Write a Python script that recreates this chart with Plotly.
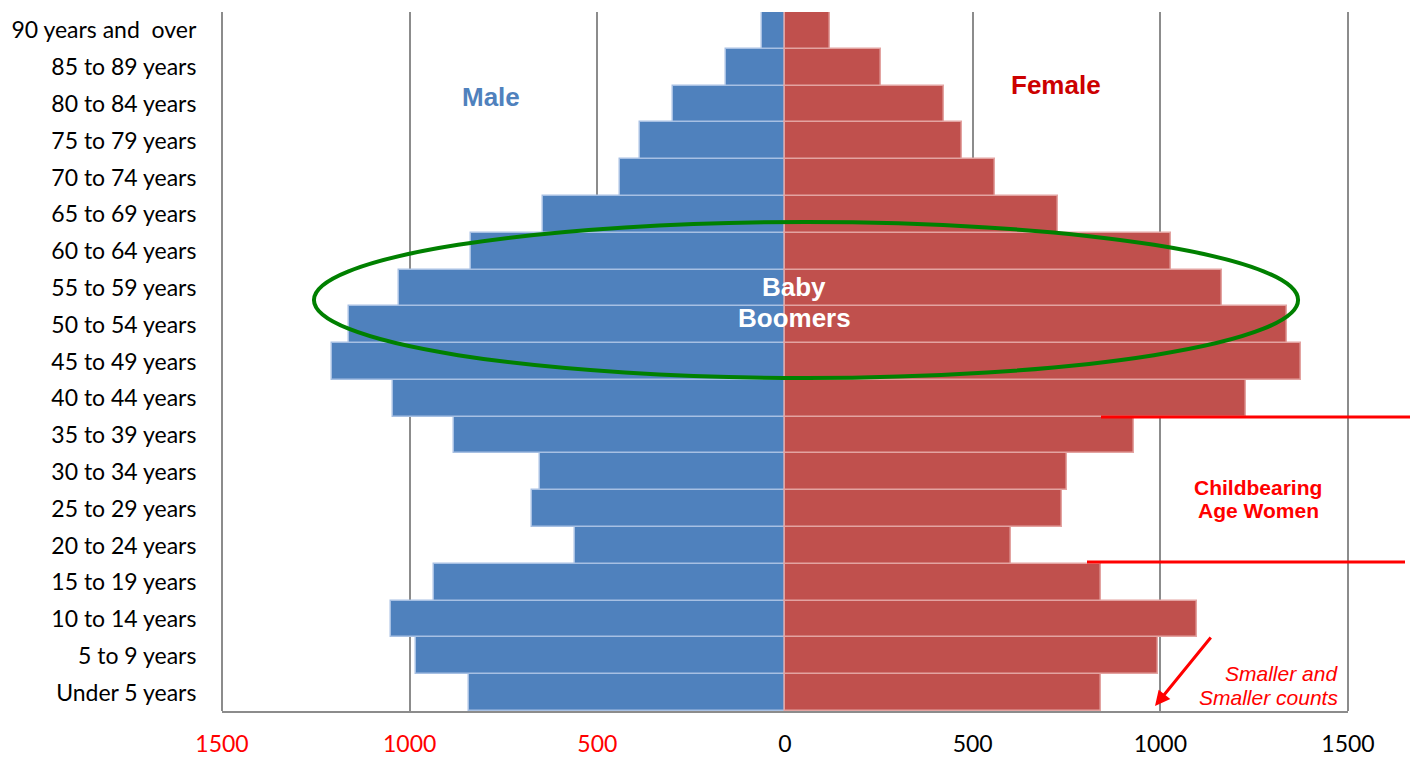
import plotly.graph_objects as go

categories = ["Under 5 years", "5 to 9 years", "10 to 14 years", "15 to 19 years",
              "20 to 24 years", "25 to 29 years", "30 to 34 years", "35 to 39 years",
              "40 to 44 years", "45 to 49 years", "50 to 54 years", "55 to 59 years",
              "60 to 64 years", "65 to 69 years", "70 to 74 years", "75 to 79 years",
              "80 to 84 years", "85 to 89 years", "90 years and  over"]
male = [842, 983, 1050, 935, 560, 674, 653, 882, 1044, 1207, 1162, 1028,
        837, 645, 440, 386, 298, 157, 60]
female = [842, 994, 1098, 842, 602, 738, 751, 930, 1228, 1375, 1338, 1164,
          1028, 727, 560, 472, 424, 256, 120]
tick_vals = [-1500, -1000, -500, 0, 500, 1000, 1500]
tick_text = ['<span style="color:#FF0000">1500</span>',
             '<span style="color:#FF0000">1000</span>',
             '<span style="color:#FF0000">500</span>',
             '0', '500', '1000', '1500']

fig = go.Figure()
fig.add_trace(go.Bar(y=categories, x=[-v for v in male], orientation="h", name="Male",
                     marker=dict(color="#4F81BD", line=dict(color="#A7C0E3", width=1.5))))
fig.add_trace(go.Bar(y=categories, x=female, orientation="h", name="Female",
                     marker=dict(color="#C0504D", line=dict(color="#E3A3A1", width=1.5))))

W, H = 1414, 758
L, R, T, B = 222, 1348, 12, 711
def px(x):
    return (x - L) / (R - L)
def py(y):
    return (B - y) / (B - T)

fig.update_layout(
    width=W, height=H,
    margin=dict(l=L, r=W - R, t=T, b=H - B, autoexpand=False),
    barmode="relative", bargap=0.0,
    showlegend=False,
    plot_bgcolor="white", paper_bgcolor="white",
    font=dict(family="Lato", size=23, color="black"),
    xaxis=dict(range=[-1500, 1500], tickvals=tick_vals, ticktext=tick_text,
               showgrid=True, gridcolor="#8C8C8C", gridwidth=1.5,
               zeroline=True, zerolinecolor="#8C8C8C", zerolinewidth=1.5,
               showline=True, linecolor="#8C8C8C", linewidth=1.5,
               ticks="outside", ticklen=12, tickcolor="rgba(0,0,0,0)",
               tickfont=dict(family="Lato", size=23), fixedrange=True, automargin=False),
    yaxis=dict(categoryorder="array", categoryarray=categories,
               showline=False, showgrid=False, ticks="outside", ticklen=20,
               tickcolor="rgba(0,0,0,0)", tickfont=dict(family="Lato", size=23),
               automargin=False, fixedrange=True),
)

shapes = [
    dict(type="line", xref="paper", yref="paper", x0=0, x1=0, y0=0, y1=1,
         line=dict(color="#8C8C8C", width=2), layer="below"),
    dict(type="line", xref="paper", yref="paper", x0=1, x1=1, y0=0, y1=1,
         line=dict(color="#8C8C8C", width=2), layer="below"),
    dict(type="circle", xref="x", yref="paper", x0=-1255, x1=1367,
         y0=py(378), y1=py(222), line=dict(color="#008000", width=4)),
    dict(type="line", xref="paper", yref="paper", x0=px(1101), x1=px(1410),
         y0=py(417), y1=py(417), line=dict(color="#FF0000", width=3)),
    dict(type="line", xref="paper", yref="paper", x0=px(1087), x1=px(1405),
         y0=py(562), y1=py(562), line=dict(color="#FF0000", width=3)),
]
fig.update_layout(shapes=shapes)

ann = [
    dict(x=px(491), y=py(97), text="<b>Male</b>", font=dict(family="Liberation Sans", size=26, color="#4F81BD")),
    dict(x=px(1056), y=py(85), text="<b>Female</b>", font=dict(family="Liberation Sans", size=26, color="#CC0000")),
    dict(x=px(794), y=py(287), text="<b>Baby</b>", font=dict(family="Liberation Sans", size=26, color="white")),
    dict(x=px(794), y=py(318), text="<b>Boomers</b>", font=dict(family="Liberation Sans", size=26, color="white")),
    dict(x=px(1258), y=py(487), text="<b>Childbearing</b>", font=dict(family="Liberation Sans", size=21, color="#FF0000")),
    dict(x=px(1258), y=py(511), text="<b>Age Women</b>", font=dict(family="Liberation Sans", size=21, color="#FF0000")),
    dict(x=px(1340), y=py(673), text="<i>Smaller and</i>", xanchor="right",
         font=dict(family="Liberation Sans", size=21, color="#FF0000")),
    dict(x=px(1340), y=py(697), text="<i>Smaller counts</i>", xanchor="right",
         font=dict(family="Liberation Sans", size=21, color="#FF0000")),
]
for a in ann:
    a.update(xref="paper", yref="paper", showarrow=False)
    a.setdefault("xanchor", "center")
    a.setdefault("yanchor", "middle")
fig.update_layout(annotations=ann)
fig.add_annotation(xref="paper", yref="paper", x=px(1155), y=py(706), ax=57, ay=-70,
                   axref="pixel", ayref="pixel", text="", showarrow=True,
                   arrowhead=2, arrowsize=1, arrowwidth=3, arrowcolor="#FF0000")

fig.write_html("out.html", config={"displayModeBar": False},
               post_script="document.body.style.margin='0';")
